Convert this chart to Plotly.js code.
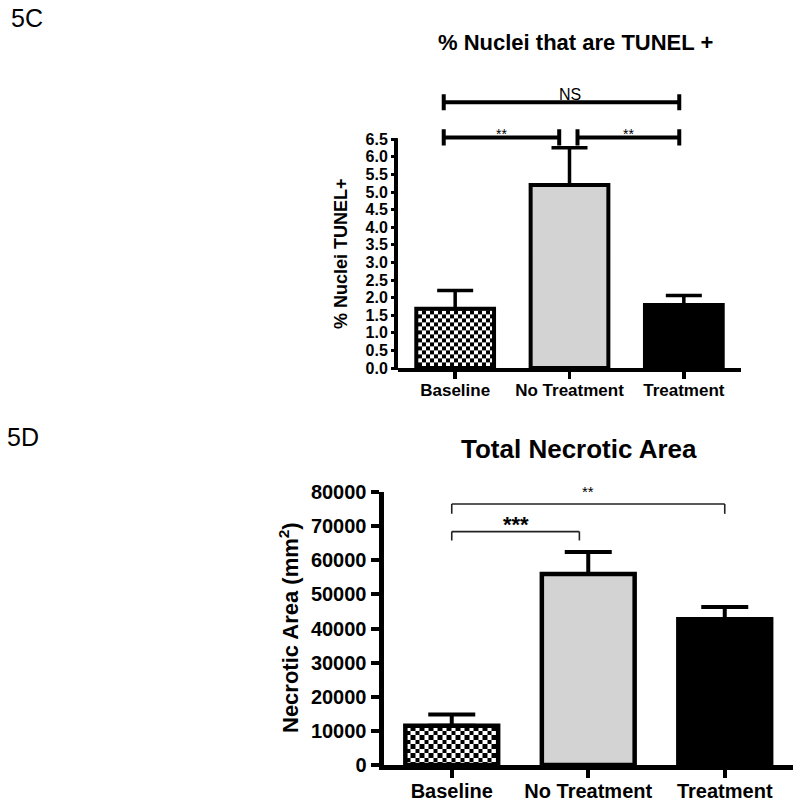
<!DOCTYPE html>
<html><head><meta charset="utf-8">
<script src="https://cdn.plot.ly/plotly-3.0.1.min.js"></script>
<style>html,body{margin:0;padding:0;background:#fff}#chart{width:800px;height:804px}</style>
</head><body><div id="chart"></div>
<script>
// ---------- data ----------
const categories = ['Baseline', 'No Treatment', 'Treatment'];
const tunelMeans = [1.68, 5.20, 1.79];
const tunelErrUp = [0.52, 1.06, 0.27];
const tunelTicks = [0, 0.5, 1.0, 1.5, 2.0, 2.5, 3.0, 3.5, 4.0, 4.5, 5.0, 5.5, 6.0, 6.5];
const necroticMeans = [11500, 56000, 42700];
const necroticErrUp = [3300, 6400, 3600];
const necroticTicks = [0, 10000, 20000, 30000, 40000, 50000, 60000, 70000, 80000];
const barColors = ['#ffffff', '#d3d3d3', '#000000'];
const barPatterns = ['.', '', ''];
const tunelSig = [
  {a: 'Baseline', b: 'Treatment', label: 'NS'},
  {a: 'Baseline', b: 'No Treatment', label: '**'},
  {a: 'No Treatment', b: 'Treatment', label: '**'}
];
const necroticSig = [
  {a: 'Baseline', b: 'No Treatment', label: '***'},
  {a: 'Baseline', b: 'Treatment', label: '**'}
];

// ---------- layout helpers ----------
const W = 800, H = 804;
const FONT = 'Liberation Sans, Arial, Helvetica, sans-serif';
const py = p => (H - p) / H;   // pixel row -> paper y
const px = p => p / W;         // pixel col -> paper x

// top panel geometry
const T_ZERO = 368, T_PER = 35.2, T_MAX = 8;
const topXDom = [px(398), px(741)];
const topYDom = [py(T_ZERO), py(T_ZERO - T_MAX * T_PER)];
// bottom panel geometry
const B_ZERO = 765, B_TOP = 492;
const botXDom = [px(383.5), px(793)];
const botYDom = [py(B_ZERO), py(B_TOP)];

const idx = c => categories.indexOf(c);

const traces = [
  {
    type: 'bar', x: categories, y: tunelMeans, xaxis: 'x', yaxis: 'y',
    width: 0.68,
    marker: {color: barColors, line: {color: '#000', width: 4},
      pattern: {shape: barPatterns, fgcolor: '#000', bgcolor: '#fff', size: 8, solidity: 0.5}},
    error_y: {type: 'data', symmetric: false, array: tunelErrUp, arrayminus: tunelErrUp.map(() => 0),
      color: '#000', thickness: 3.5, width: 18},
    hoverinfo: 'skip', showlegend: false
  },
  {
    type: 'bar', x: categories, y: necroticMeans, xaxis: 'x2', yaxis: 'y2',
    width: 0.68,
    marker: {color: barColors, line: {color: '#000', width: 4.5},
      pattern: {shape: barPatterns, fgcolor: '#000', bgcolor: '#fff', size: 9, solidity: 0.5}},
    error_y: {type: 'data', symmetric: false, array: necroticErrUp, arrayminus: necroticErrUp.map(() => 0),
      color: '#000', thickness: 4, width: 23.5},
    hoverinfo: 'skip', showlegend: false
  }
];

const shapes = [];
const annotations = [];

// y-axis line for the top panel (stops at the last tick)
shapes.push({type: 'line', xref: 'paper', yref: 'paper',
  x0: topXDom[0] - px(2), x1: topXDom[0] - px(2),
  y0: topYDom[0] - 2 / H, y1: py(T_ZERO - tunelTicks[tunelTicks.length - 1] * T_PER) + 1 / H,
  line: {color: '#000', width: 4}});

// top significance brackets (thick, with vertical end caps)
const topLevels = [7.55, 6.55, 6.55];
const topCap = 0.23;
tunelSig.forEach((s, k) => {
  const i = idx(s.a), j = idx(s.b);
  const x0 = i === 1 ? i + 0.07 : i - 0.1;
  const x1 = j === 1 ? j - 0.09 : j - 0.04;
  const y = topLevels[k];
  const ln = {color: '#000', width: 4};
  shapes.push({type: 'line', xref: 'x', yref: 'y', x0: x0, x1: x1, y0: y, y1: y, line: ln});
  shapes.push({type: 'line', xref: 'x', yref: 'y', x0: x0, x1: x0, y0: y - topCap, y1: y + topCap, line: ln});
  shapes.push({type: 'line', xref: 'x', yref: 'y', x0: x1, x1: x1, y0: y - topCap, y1: y + topCap, line: ln});
  const isNS = s.label === 'NS';
  annotations.push({xref: 'x', yref: 'y', x: isNS ? (i + j) / 2 : (x0 + x1) / 2, y: y,
    xanchor: 'center', yanchor: 'bottom', yshift: isNS ? -3 : -7, showarrow: false, text: s.label,
    font: {family: FONT, size: isNS ? 16 : 14, color: '#000'}});
});

// bottom significance brackets (thin)
const botLevels = [68400, 76500];
const botDrop = [2600, 2900];
necroticSig.forEach((s, k) => {
  const i = idx(s.a), j = idx(s.b);
  const x0 = i, x1 = j === 1 ? j - 0.065 : j;
  const y = botLevels[k];
  const ln = {color: '#222', width: 1.6};
  shapes.push({type: 'line', xref: 'x2', yref: 'y2', x0: x0, x1: x1, y0: y, y1: y, line: ln});
  shapes.push({type: 'line', xref: 'x2', yref: 'y2', x0: x0, x1: x0, y0: y - botDrop[k], y1: y, line: ln});
  shapes.push({type: 'line', xref: 'x2', yref: 'y2', x0: x1, x1: x1, y0: y - botDrop[k], y1: y, line: ln});
  const big = s.label === '***';
  annotations.push({xref: 'x2', yref: 'y2', x: (x0 + x1) / 2, y: y,
    xanchor: 'center', yanchor: 'bottom', yshift: big ? -7 : 2, showarrow: false,
    text: big ? '<b>' + s.label + '</b>' : s.label,
    font: {family: FONT, size: big ? 22 : 15, color: '#000'}});
});

// titles / panel labels / axis titles
const centered = {xref: 'paper', yref: 'paper', xanchor: 'center', yanchor: 'middle', showarrow: false};
annotations.push(
  Object.assign({}, centered, {x: px(27), y: py(18), text: '5C',
    font: {family: FONT, size: 25, color: '#000'}}),
  Object.assign({}, centered, {x: px(23), y: py(437), text: '5D',
    font: {family: FONT, size: 25, color: '#000'}}),
  Object.assign({}, centered, {x: px(575), y: py(42),
    text: '<b>% Nuclei that are TUNEL +</b>', font: {family: FONT, size: 22, color: '#000'}}),
  Object.assign({}, centered, {x: px(579), y: py(449),
    text: '<b>Total Necrotic Area</b>', font: {family: FONT, size: 26, color: '#000'}}),
  Object.assign({}, centered, {x: px(341), y: py(254), textangle: -90,
    text: '<b>% Nuclei TUNEL+</b>', font: {family: FONT, size: 18, color: '#000'}}),
  Object.assign({}, centered, {x: px(289), y: py(628), textangle: -90,
    text: '<b>Necrotic Area (mm<sup>2</sup>)</b>', font: {family: FONT, size: 22, color: '#000'}})
);

const layout = {
  width: W, height: H,
  margin: {l: 0, r: 0, t: 0, b: 0},
  paper_bgcolor: '#fff', plot_bgcolor: 'rgba(0,0,0,0)',
  showlegend: false,
  xaxis: {domain: topXDom, anchor: 'y', type: 'category', range: [-0.5, 2.5],
    showline: true, linecolor: '#000', linewidth: 4, showgrid: false, zeroline: false,
    ticks: 'outside', ticklen: 7, tickwidth: 3.5, tickcolor: '#000', ticklabelstandoff: -3,
    tickfont: {family: FONT, size: 17, color: '#000', weight: 'bold'}, fixedrange: true},
  yaxis: {domain: topYDom, anchor: 'x', range: [0, T_MAX],
    showline: false, showgrid: false, zeroline: false,
    tickmode: 'array', tickvals: tunelTicks, ticktext: tunelTicks.map(v => v.toFixed(1)),
    ticks: 'outside', ticklen: 6, tickwidth: 3, tickcolor: '#000',
    tickfont: {family: FONT, size: 16, color: '#000', weight: 'bold'}, fixedrange: true},
  xaxis2: {domain: botXDom, anchor: 'y2', type: 'category', range: [-0.5, 2.5],
    showline: true, linecolor: '#000', linewidth: 5, showgrid: false, zeroline: false,
    ticks: 'outside', ticklen: 8, tickwidth: 4, tickcolor: '#000', ticklabelstandoff: -4,
    tickfont: {family: FONT, size: 20, color: '#000', weight: 'bold'}, fixedrange: true},
  yaxis2: {domain: botYDom, anchor: 'x2', range: [0, 80000],
    showline: true, linecolor: '#000', linewidth: 5, showgrid: false, zeroline: false,
    tickmode: 'array', tickvals: necroticTicks, ticktext: necroticTicks.map(v => String(v)),
    ticks: 'outside', ticklen: 8, tickwidth: 4, tickcolor: '#000',
    tickfont: {family: FONT, size: 20, color: '#000', weight: 'bold'}, fixedrange: true},
  shapes: shapes,
  annotations: annotations
};

Plotly.newPlot('chart', traces, layout, {staticPlot: true, displayModeBar: false}).then(gd => {
  // turn the dot pattern into a checkerboard texture
  const ns = 'http://www.w3.org/2000/svg';
  gd.querySelectorAll('pattern').forEach(p => {
    const s = parseFloat(p.getAttribute('width')) || 8;
    const half = s / 2;
    while (p.firstChild) p.removeChild(p.firstChild);
    p.setAttribute('width', s);
    p.setAttribute('height', s);
    [[0, 0, s, s, '#fff'], [0, 0, half, half, '#000'], [half, half, half, half, '#000']].forEach(r => {
      const el = document.createElementNS(ns, 'rect');
      el.setAttribute('x', r[0]); el.setAttribute('y', r[1]);
      el.setAttribute('width', r[2]); el.setAttribute('height', r[3]);
      el.setAttribute('fill', r[4]);
      el.setAttribute('shape-rendering', 'crispEdges');
      p.appendChild(el);
    });
  });
});
</script>
</body></html>
